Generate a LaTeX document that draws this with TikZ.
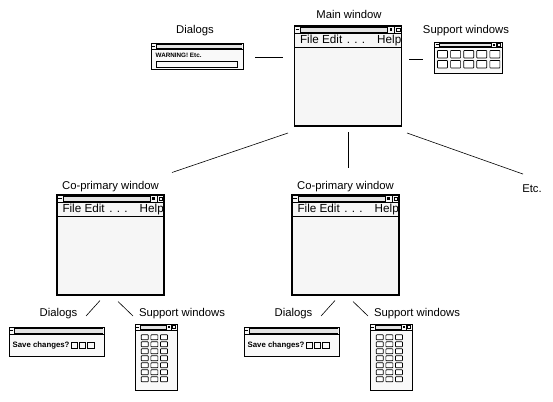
\documentclass[tikz,border=0pt]{standalone}
\usepackage{fontspec}
\setmainfont{Liberation Sans}
\newcommand\lblfont{\fontsize{11.3}{13}\selectfont}
\newcommand\menufont{\fontsize{11.7}{13}\selectfont}
\tikzset{
  lbl/.style={font=\lblfont, inner sep=0pt, outer sep=0pt},
  mnu/.style={font=\menufont, inner sep=0pt, outer sep=0pt},
  winframe/.style={draw, line width=1.25pt, fill=gray!7, inner sep=0pt, outer sep=0pt, anchor=north west},
  smallframe/.style={draw, line width=0.9pt, fill=gray!5, inner sep=0pt, outer sep=0pt, anchor=north west},
  conn/.style={line width=0.6pt},
  tbfill/.style={fill=gray!22},
  thinln/.style={line width=0.5pt},
  btn/.style={draw, line width=0.65pt, fill=white, rounded corners=0.6pt},
  dlgtext/.style={font=\bfseries\fontsize{#1}{9}\selectfont, inner sep=0pt, anchor=west},
}
% application window: name, x, y (top-left)
\newcommand\appwin[3]{%
  \node[winframe, minimum width=107pt, minimum height=100pt] (#1) at (#2,#3) {};
  \begin{scope}[shift={(#1.north west)}]
    \fill[tbfill] (6,1.3) rectangle (93,5.9);
    \draw[thinln] (6,1.3) -- (93,1.3) (6,5.9) -- (93,5.9);
    \draw[thinln] (0,7.2) -- (107,7.2);
    \draw[thinln] (6,0) -- (6,7.2) (93,0) -- (93,7.2) (100,0) -- (100,7.2);
    \draw[line width=1pt] (1.2,3.3) -- (4.8,3.3);
    \fill (95.3,2.4) rectangle (97.7,4.8);
    \draw[thinln] (102,1.8) rectangle (105.5,5.4);
    \node[mnu, anchor=base west] (#1-file) at (5.5,17.3) {File Edit};
    \node[mnu, anchor=base] (#1-dots) at (61.5,17.3) {. . .};
    \node[mnu, anchor=base east] (#1-help) at (106.8,17.3) {Help};
    \draw[line width=1.2pt] (0,21.5) -- (107,21.5);
  \end{scope}}
% dialog: name, x, y, w, h, title height
\newcommand\dlgwin[6]{%
  \node[smallframe, minimum width=#4pt, minimum height=#5pt] (#1) at (#2,#3) {};
  \begin{scope}[shift={(#1.north west)}]
    \fill[tbfill] (5,1.2) rectangle ({#4-1.5},{#6-1.2});
    \draw[thinln] (5,1.2) -- ({#4-1.5},1.2) (5,{#6-1.2}) -- ({#4-1.5},{#6-1.2});
    \draw[thinln] (0,#6) -- (#4,#6) (5,0) -- (5,#6);
    \draw[line width=0.9pt] (1,{#6/2}) -- (4,{#6/2});
  \end{scope}}
% support window: name, x, y, w, h, title height
\newcommand\supwin[6]{%
  \node[smallframe, minimum width=#4pt, minimum height=#5pt] (#1) at (#2,#3) {};
  \begin{scope}[shift={(#1.north west)}]
    \fill[tbfill] (5,1.1) rectangle ({#4-11},{#6-1.1});
    \draw[thinln] (5,1.1) -- ({#4-11},1.1) (5,{#6-1.1}) -- ({#4-11},{#6-1.1});
    \draw[thinln] (0,#6) -- (#4,#6) (5,0) -- (5,#6) ({#4-11},0) -- ({#4-11},#6) ({#4-5.5},0) -- ({#4-5.5},#6);
    \draw[line width=0.8pt] (1,{#6/2}) -- (4,{#6/2});
    \fill ({#4-9.3},{#6/2-1}) rectangle ({#4-7.3},{#6/2+1});
    \draw[thinln] ({#4-4.3},1.3) rectangle ({#4-1.3},{#6-1.3});
  \end{scope}}
% lower group: prefix, x offset
\newcommand\subgrp[2]{%
  \appwin{#1co}{{57+#2}}{195}
  \node[lbl] (#1colbl) at ({110.5+#2},186.5) {Co-primary window};
  \node[lbl] (#1dlbl) at ({58.5+#2},314) {Dialogs};
  \node[lbl, anchor=west] (#1slbl) at ({139+#2},314) {Support windows};
  \dlgwin{#1dlg}{{9+#2}}{327}{95}{29}{7}
  \node[dlgtext=7.8] (#1dtxt) at ([shift={(3.5,18)}]#1dlg.north west) {Save changes?};
  \foreach \i in {0,1,2}
    \draw[line width=0.7pt] ([shift={({62+8.3*\i},15)}]#1dlg.north west) rectangle ++(6.5,6.5);
  \supwin{#1sup}{{135+#2}}{324}{42}{66}{6}
  \foreach \r in {0,...,6}
    \foreach \c in {0,1,2}
      \draw[btn] ([shift={({6.3+9.6*\c},{10.8+7*\r})}]#1sup.north west) rectangle ++(7,5);
  \draw[conn] ([shift={(-10.5,5.5)}]#1co.south) -- ([shift={(8.7,2)}]#1dlbl.east);
  \draw[conn] ([shift={(7.5,6.5)}]#1co.south) -- ([shift={(-6,2)}]#1slbl.west);
}
\begin{document}
\begin{tikzpicture}[x=1pt,y=-1pt]
  \fill[white] (0,0) rectangle (553,401);
  \useasboundingbox (0,0) rectangle (553,401);
  % top row
  \appwin{main}{294.5}{26}
  \node[lbl] (mainlbl) at (349,14) {Main window};
  \node[lbl] (dlglbl) at (195,31) {Dialogs};
  \dlgwin{dlg}{151}{43}{92}{26}{6}
  \node[dlgtext=6.3] (warn) at ([shift={(4.5,12.5)}]dlg.north west) {WARNING! Etc.};
  \draw[line width=0.7pt] ([shift={(5,18)}]dlg.north west) rectangle ([shift={(86,24)}]dlg.north west);
  \node[lbl] (suplbl) at (466,31) {Support windows};
  \supwin{sup}{434.5}{42}{67.5}{31}{5.5}
  \foreach \r in {0,1}
    \foreach \c in {0,...,4}
      \draw[btn] ([shift={({3+13.1*\c},{8.5+10*\r})}]sup.north west) rectangle ++(10,7.5);
  \draw[conn] ([shift={(12,1.5)}]dlg.east) -- ([shift={(-11.5,-18.5)}]main.west);
  \draw[conn] ([shift={(7.5,-16.5)}]main.east) -- ([shift={(-11.5,2)}]sup.west);
  % lower groups
  \subgrp{L}{0}
  \subgrp{R}{235}
  \node[lbl] (etc) at (532,189) {Etc.};
  \draw[conn] ([shift={(-6.5,7)}]main.south west) -- ([shift={(8,-22.5)}]Lco.north east);
  \draw[conn] ([shift={(0,6)}]main.south) -- ([shift={(0,-27)}]main.south |- Rco.north);
  \draw[conn] ([shift={(5.5,7)}]main.south east) -- ([shift={(-9,-11)}]etc.north);
\end{tikzpicture}
\end{document}
